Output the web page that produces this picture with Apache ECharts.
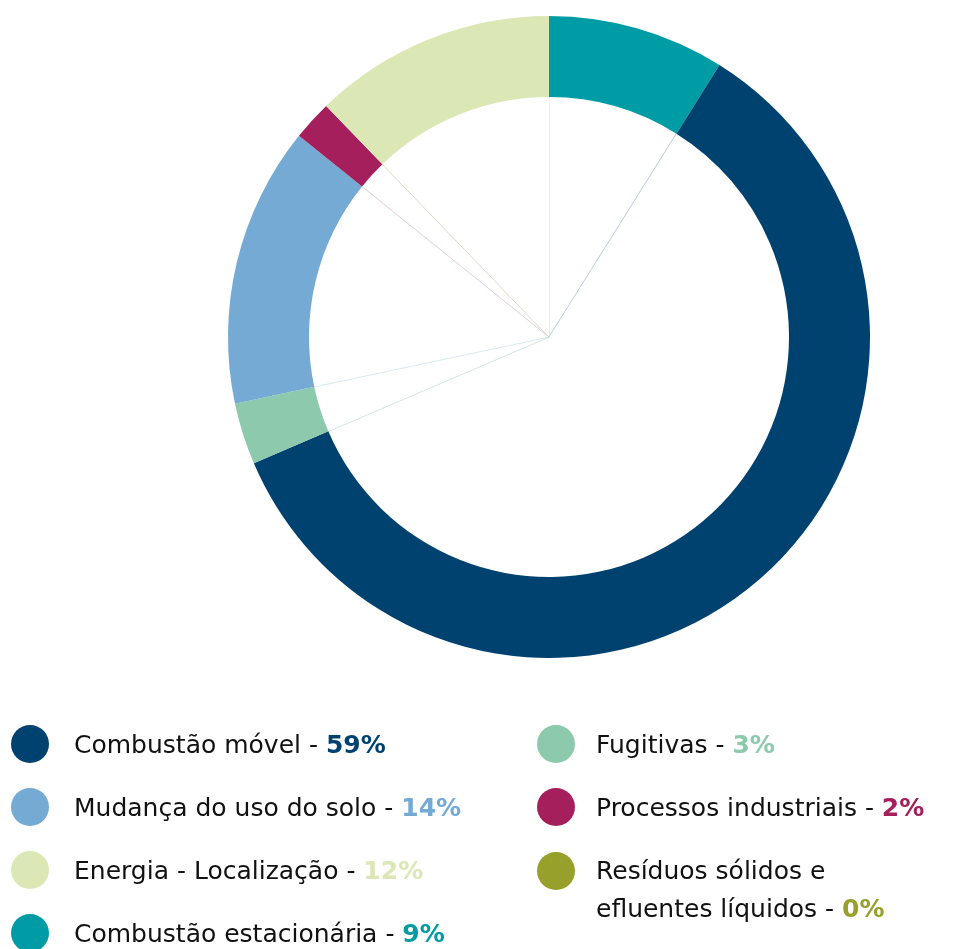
<!DOCTYPE html>
<html>
<head>
<meta charset="utf-8">
<script src="https://cdn.jsdelivr.net/npm/echarts@6/dist/echarts.min.js"></script>
<style>
  html, body { margin: 0; padding: 0; background: #fff; }
  #chart { width: 958px; height: 949px; }
</style>
</head>
<body>
<div id="chart"></div>
<script>
// slice order, clockwise from the top
var categories = [
  "Combustão estacionária",
  "Combustão móvel",
  "Fugitivas",
  "Mudança do uso do solo",
  "Processos industriais",
  "Resíduos sólidos e efluentes líquidos",
  "Energia - Localização"
];
var values = [8.9, 59.6, 3.1, 14.1, 2.0, 0, 12.2];
var pctLabels = ["9%", "59%", "3%", "14%", "2%", "0%", "12%"];
var colors = ["#009ca6", "#00426f", "#8cc9ad", "#74aad3", "#a51f5c", "#96a02a", "#dbe7b4"];

// legend columns
var legendLeft = ["Combustão móvel", "Mudança do uso do solo", "Energia - Localização", "Combustão estacionária"];
var legendRight = ["Fugitivas", "Processos industriais"];
var legendLast = ["Resíduos sólidos e efluentes líquidos"];

var FONT = "'DejaVu Sans', sans-serif";
var FS = 25;

function hexA(hex, a) {
  var n = parseInt(hex.slice(1), 16);
  return "rgba(" + (n >> 16) + "," + ((n >> 8) & 255) + "," + (n & 255) + "," + a + ")";
}

var rich = {
  n: { fontSize: FS, color: "#111", fontFamily: FONT, lineHeight: 38 }
};
categories.forEach(function (c, i) {
  rich["p" + i] = { fontSize: FS, fontWeight: "bold", color: colors[i], fontFamily: FONT, lineHeight: 38 };
});

function fmt(name) {
  var i = categories.indexOf(name);
  var label = name;
  if (name.indexOf("Resíduos") === 0) label = "Resíduos sólidos e\nefluentes líquidos";
  var lines = (label + " - ").split("\n");
  var out = lines.map(function (l) { return "{n|" + l + "}"; }).join("\n");
  return out + "{p" + i + "|" + pctLabels[i] + "}";
}

var data = categories.map(function (c, i) {
  return { name: c, value: values[i], itemStyle: { color: colors[i] } };
});
var innerData = categories.map(function (c, i) {
  return {
    name: c, value: values[i],
    itemStyle: { color: "#fff", borderColor: hexA(colors[i], 0.25), borderWidth: 0.8 }
  };
});

var legendBase = {
  orient: "vertical",
  icon: "circle",
  itemWidth: 38,
  itemHeight: 38,
  itemGap: 25,
  padding: 0,
  height: 400,
  selectedMode: false,
  formatter: fmt,
  textStyle: { rich: rich, fontSize: FS, fontFamily: FONT, color: "#111" }
};

var chart = echarts.init(document.getElementById("chart"));
chart.setOption({
  animation: false,
  legend: [
    Object.assign({}, legendBase, {
      data: legendLeft, left: 11, top: 725,
      textStyle: Object.assign({}, legendBase.textStyle, { padding: [4, 0, 0, 20] })
    }),
    Object.assign({}, legendBase, {
      data: legendRight, left: 537, top: 725,
      textStyle: Object.assign({}, legendBase.textStyle, { padding: [4, 0, 0, 16] })
    }),
    Object.assign({}, legendBase, {
      data: legendLast, left: 537, top: 852,
      textStyle: Object.assign({}, legendBase.textStyle, { padding: [40, 0, 0, 16] })
    })
  ],
  series: [
    {
      type: "pie",
      center: [549, 337],
      radius: [240, 321],
      startAngle: 90,
      clockwise: true,
      label: { show: false },
      labelLine: { show: false },
      itemStyle: { borderWidth: 0 },
      data: data,
      z: 2
    },
    {
      type: "pie",
      center: [549, 337],
      radius: [0, 242],
      startAngle: 90,
      clockwise: true,
      silent: true,
      label: { show: false },
      labelLine: { show: false },
      legendHoverLink: false,
      data: innerData,
      z: 1
    }
  ]
});
</script>
</body>
</html>
